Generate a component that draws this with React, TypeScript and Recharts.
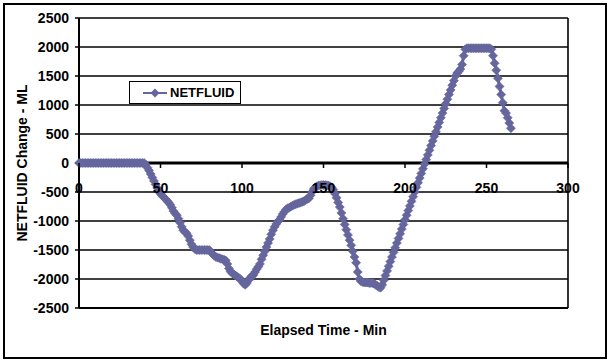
import React from 'react';
import { LineChart, Line, XAxis, YAxis, CartesianGrid, ReferenceLine } from 'recharts';

const TIMES: number[] = [
  0, 1, 2, 3, 4, 5, 6, 7, 8, 9,
  10, 11, 12, 13, 14, 15, 16, 17, 18, 19,
  20, 21, 22, 23, 24, 25, 26, 27, 28, 29,
  30, 31, 32, 33, 34, 35, 36, 37, 38, 39,
  40, 41, 42, 43, 44, 45, 46, 47, 48, 49,
  50, 51, 52, 53, 54, 55, 56, 57, 58, 59,
  60, 61, 62, 63, 64, 65, 66, 67, 68, 69,
  70, 71, 72, 73, 74, 75, 76, 77, 78, 79,
  80, 81, 82, 83, 84, 85, 86, 87, 88, 89,
  90, 91, 92, 93, 94, 95, 96, 97, 98, 99,
  100, 101, 102, 103, 104, 105, 106, 107, 108, 109,
  110, 111, 112, 113, 114, 115, 116, 117, 118, 119,
  120, 121, 122, 123, 124, 125, 126, 127, 128, 129,
  130, 131, 132, 133, 134, 135, 136, 137, 138, 139,
  140, 141, 142, 143, 144, 145, 146, 147, 148, 149,
  150, 151, 152, 153, 154, 155, 156, 157, 158, 159,
  160, 161, 162, 163, 164, 165, 166, 167, 168, 169,
  170, 171, 172, 173, 174, 175, 176, 177, 178, 179,
  180, 181, 182, 183, 184, 185, 186, 187, 188, 189,
  190, 191, 192, 193, 194, 195, 196, 197, 198, 199,
  200, 201, 202, 203, 204, 205, 206, 207, 208, 209,
  210, 211, 212, 213, 214, 215, 216, 217, 218, 219,
  220, 221, 222, 223, 224, 225, 226, 227, 228, 229,
  230, 231, 232, 233, 234, 235, 236, 237, 238, 239,
  240, 241, 242, 243, 244, 245, 246, 247, 248, 249,
  250, 251, 252, 253, 254, 255, 256, 257, 258, 259,
  260, 261, 262, 263, 264, 265,
];

const NETFLUID: number[] = [
  0, 0, 0, 0, 0, 0, 0, 0, 0, 0,
  0, 0, 0, 0, 0, 0, 0, 0, 0, 0,
  0, 0, 0, 0, 0, 0, 0, 0, 0, 0,
  0, 0, 0, 0, 0, 0, 0, 0, 0, 0,
  0, -30, -80, -130, -190, -250, -310, -370, -430, -490,
  -530, -560, -590, -620, -650, -680, -720, -770, -830, -870,
  -900, -960, -1030, -1100, -1160, -1190, -1210, -1260, -1330, -1400,
  -1450, -1480, -1500, -1500, -1500, -1500, -1500, -1500, -1500, -1500,
  -1500, -1540, -1570, -1600, -1620, -1630, -1640, -1650, -1660, -1670,
  -1680, -1740, -1820, -1870, -1900, -1920, -1940, -1960, -1980, -2000,
  -2040, -2080, -2100, -2070, -2020, -1980, -1950, -1930, -1880, -1830,
  -1790, -1740, -1660, -1590, -1520, -1450, -1380, -1310, -1230, -1160,
  -1100, -1050, -1010, -980, -930, -880, -840, -800, -780, -770,
  -750, -735, -720, -710, -700, -690, -680, -670, -660, -640,
  -620, -610, -560, -500, -450, -420, -400, -390, -385, -380,
  -380, -380, -385, -390, -400, -420, -460, -530, -600, -680,
  -760, -860, -960, -1060, -1150, -1240, -1330, -1420, -1520, -1620,
  -1720, -1880, -2000, -2040, -2050, -2060, -2060, -2060, -2070, -2070,
  -2070, -2080, -2100, -2120, -2140, -2150, -2100, -2020, -1940, -1860,
  -1780, -1700, -1620, -1540, -1460, -1380, -1300, -1220, -1140, -1060,
  -980, -900, -820, -740, -660, -580, -500, -420, -340, -260,
  -180, -100, -20, 60, 140, 220, 300, 380, 460, 540,
  620, 700, 780, 860, 940, 1020, 1100, 1180, 1260, 1340,
  1420, 1500, 1550, 1580, 1620, 1700, 1850, 1960, 1980, 1980,
  1980, 1980, 1980, 1980, 1980, 1980, 1980, 1980, 1980, 1980,
  1980, 1980, 1980, 1960, 1850, 1720, 1600, 1460, 1320, 1180,
  1040, 900, 860, 780, 690, 600,
];

const X_TICKS: number[] = [0, 50, 100, 150, 200, 250, 300];
const Y_TICKS: number[] = [-2500, -2000, -1500, -1000, -500, 0, 500, 1000, 1500, 2000, 2500];
const SERIES_NAME = 'NETFLUID';
const X_TITLE = 'Elapsed Time - Min';
const Y_TITLE = 'NETFLUID Change - ML';

const data = TIMES.map((t, i) => ({ t, v: NETFLUID[i] }));

const W = 608;
const H = 360;
const M = { top: 18, right: 40, bottom: 0, left: 0 };
const X_AXIS_H = 52;
const Y_AXIS_W = 79;
const PLOT_TOP = M.top;
const PLOT_H = H - M.top - M.bottom - X_AXIS_H;
const ZERO_Y = PLOT_TOP + PLOT_H / 2;
const COLOR = '#66669e';
const FONT = '"Liberation Sans", Arial, sans-serif';

const Diamond = (props: any) => {
  const { cx, cy } = props;
  if (cx == null || cy == null) return null;
  const r = 4.5;
  return (
    <polygon
      points={`${cx},${cy - r} ${cx + r},${cy} ${cx},${cy + r} ${cx - r},${cy}`}
      fill={COLOR}
      stroke={COLOR}
      strokeWidth={0.6}
    />
  );
};

const XTick = (props: any) => {
  const { x, payload } = props;
  return (
    <g>
      <line x1={x} y1={ZERO_Y} x2={x} y2={ZERO_Y + 5} stroke="#000" strokeWidth={1.5} />
      <text
        x={x}
        y={ZERO_Y + 30}
        textAnchor="middle"
        fontFamily={FONT}
        fontWeight="bold"
        fontSize={14}
        fill="#000"
      >
        {payload.value}
      </text>
    </g>
  );
};

const LegendBox = () => (
  <div
    style={{
      position: 'absolute',
      left: 129,
      top: 81,
      width: 110,
      height: 21,
      border: '1.5px solid #000',
      background: '#fff',
      display: 'flex',
      alignItems: 'center',
      fontFamily: FONT,
      fontWeight: 'bold',
      fontSize: 13,
      color: '#000',
      boxSizing: 'content-box',
    }}
  >
    <svg width={40} height={21}>
      <line x1={13} y1={11} x2={37} y2={11} stroke={COLOR} strokeWidth={2} />
      <polygon points="25,6.5 29.5,11 25,15.5 20.5,11" fill={COLOR} />
    </svg>
    <span>{SERIES_NAME}</span>
  </div>
);

export default function App() {
  return (
    <div style={{ position: 'absolute', left: 0, top: 0, width: W, height: H, background: '#fff' }}>
      <div
        style={{
          position: 'absolute',
          left: 3,
          top: 3,
          width: 600,
          height: 352,
          border: '2px solid #000',
        }}
      />
      <div style={{ position: 'absolute', left: 0, top: 0 }}>
        <LineChart width={W} height={H} data={data} margin={M}>
          <CartesianGrid horizontal vertical={false} stroke="#000" strokeWidth={1.6} />
          <XAxis
            dataKey="t"
            type="number"
            domain={[0, 300]}
            ticks={X_TICKS}
            height={X_AXIS_H}
            axisLine={false}
            tickLine={false}
            tickSize={0}
            tickMargin={0}
            tick={<XTick />}
            interval={0}
            label={(p: any) => {
              const vb = p.viewBox;
              return (
                <text
                  x={vb.x + vb.width / 2}
                  y={PLOT_TOP + PLOT_H + 27}
                  textAnchor="middle"
                  fontFamily={FONT}
                  fontWeight="bold"
                  fontSize={14}
                  fill="#000"
                >
                  {X_TITLE}
                </text>
              );
            }}
          />
          <YAxis
            type="number"
            domain={[-2500, 2500]}
            ticks={Y_TICKS}
            width={Y_AXIS_W}
            interval={0}
            axisLine={{ stroke: '#000', strokeWidth: 2 }}
            tickLine={{ stroke: '#000', strokeWidth: 1.5 }}
            tickSize={4}
            tickMargin={6}
            tick={{ fill: '#000', fontFamily: FONT, fontWeight: 'bold', fontSize: 14 }}
            label={() => {
              const cx = 22;
              const cy = PLOT_TOP + PLOT_H / 2;
              return (
                <text
                  x={cx}
                  y={cy}
                  transform={`rotate(-90 ${cx} ${cy})`}
                  textAnchor="middle"
                  dominantBaseline="central"
                  fontFamily={FONT}
                  fontWeight="bold"
                  fontSize={14}
                  fill="#000"
                >
                  {Y_TITLE}
                </text>
              );
            }}
          />
          <ReferenceLine x={300} stroke="#000" strokeWidth={1.6} />
          <ReferenceLine y={-2500} stroke="#000" strokeWidth={2} />
          <ReferenceLine y={0} stroke="#000" strokeWidth={3} />
          <Line
            dataKey="v"
            name={SERIES_NAME}
            stroke={COLOR}
            strokeWidth={3}
            dot={<Diamond />}
            activeDot={false}
            isAnimationActive={false}
          />
        </LineChart>
      </div>
      <LegendBox />
    </div>
  );
}
